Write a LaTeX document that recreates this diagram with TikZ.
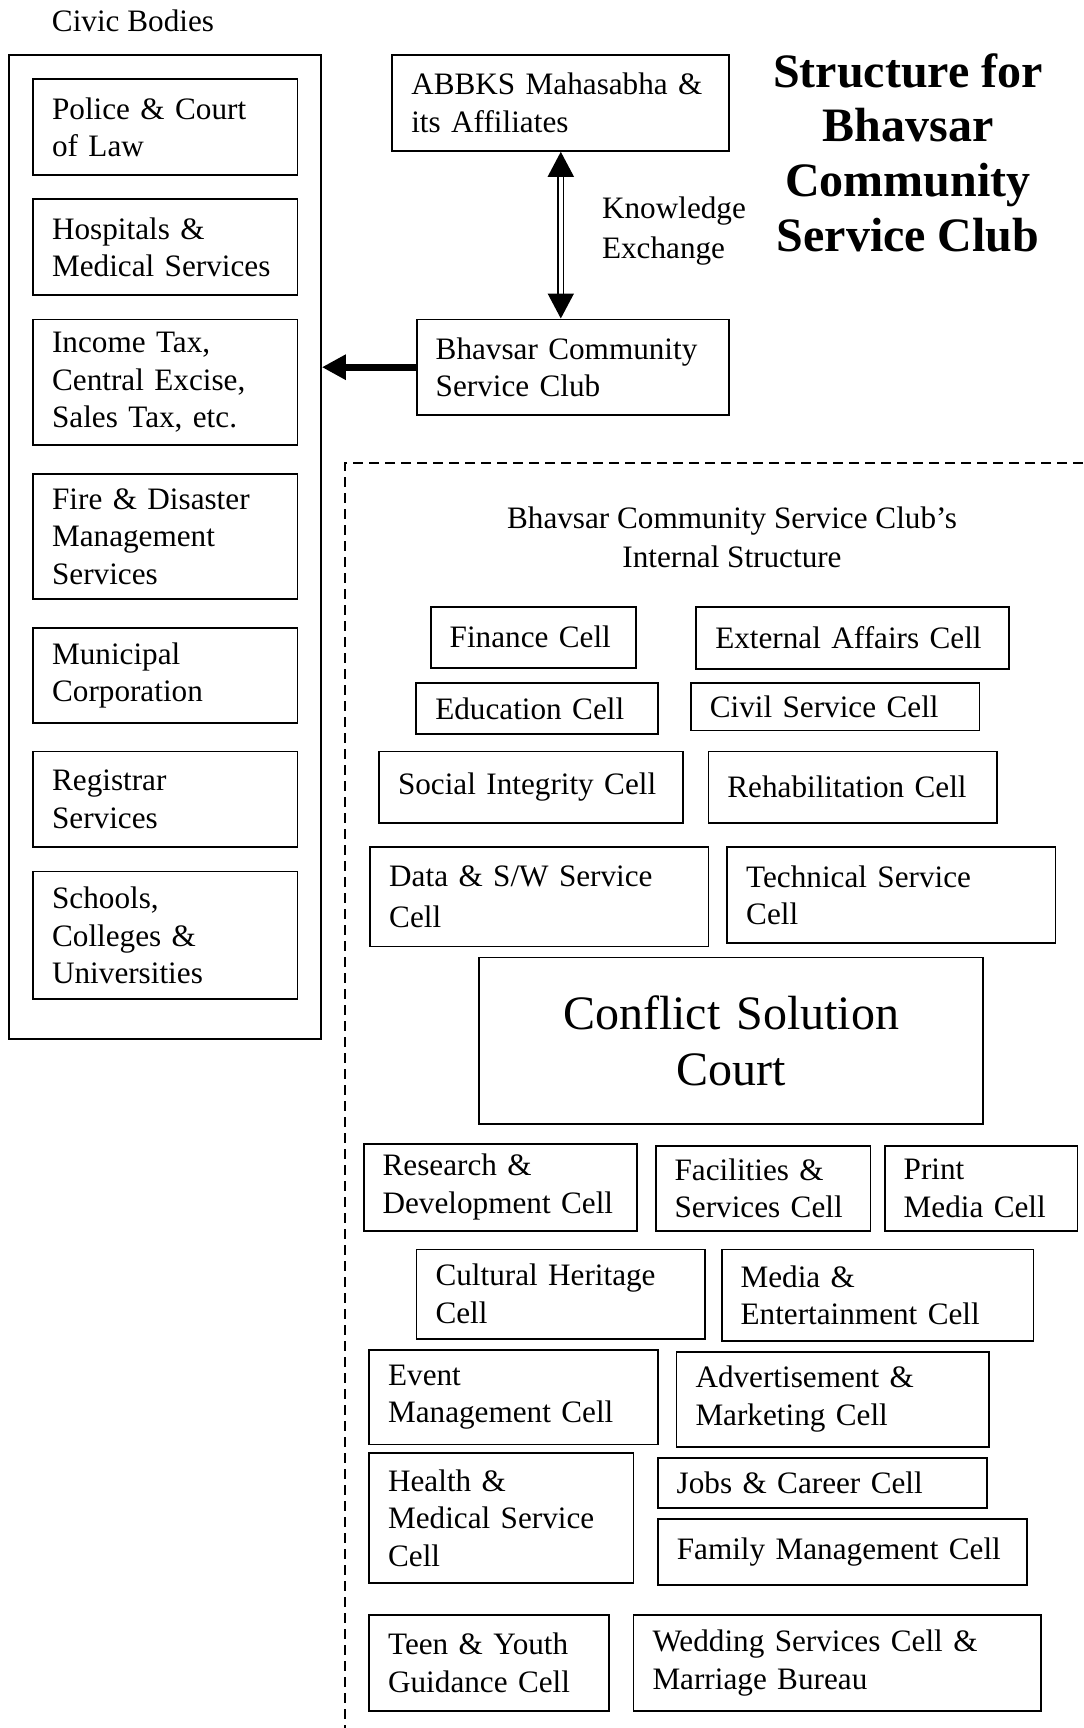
\documentclass[tikz,border=0pt]{standalone}
\usepackage{fontspec}
\setmainfont{Liberation Serif}
\usetikzlibrary{arrows.meta}

\begin{document}
\begin{tikzpicture}[x=0.5pt,y=-0.5pt,
    every node/.style={font=\fontsize{15.6}{18.7}\selectfont},
    cell/.style={draw,line width=0.9pt,inner xsep=9.5pt,inner ysep=0pt,align=left},
    bigarrow/.style={line width=3.5pt,-{Triangle[length=12pt,width=12pt]}},
    swaparrow/.style={double,line width=0.9pt,double distance=1.8pt,
        {Triangle[length=12.5pt,width=13pt]}-{Triangle[length=12.5pt,width=13pt]}}]
    \useasboundingbox (0,0) rectangle (1083,1728);
            % civic bodies
            \node (civictitle) at (133,21) {Civic Bodies};
            \node[draw,line width=0.9pt,inner sep=0pt,minimum width=156pt,
                minimum height=492pt] (civic) at (165,547) {};
            \node[cell,text width=113.2pt,minimum height=47.9pt] (police) at (165.3,127.3)
                {Police \& Court\\of Law};
            \node[cell,text width=113.2pt,minimum height=47.9pt] (hospitals) at (165.3,247.3)
                {Hospitals \&\\Medical Services};
            \node[cell,text width=113.2pt,minimum height=62.8pt] (incometax) at (165.3,382.3)
                {Income Tax,\\Central Excise,\\Sales Tax, etc.};
            \node[cell,text width=113.2pt,minimum height=62.8pt] (fire) at (165.3,536.5)
                {Fire \& Disaster\\Management\\Services};
            \node[cell,text width=113.2pt,minimum height=47.4pt] (municipal) at (165.3,675.4)
                {Municipal\\Corporation};
            \node[cell,text width=113.2pt,minimum height=47.9pt] (registrar) at (165.3,799.3)
                {Registrar\\Services};
            \node[cell,text width=113.2pt,minimum height=63.9pt] (schools) at (165.3,935.4)
                {Schools,\\Colleges \&\\Universities};
            % top part
            \node[cell,text width=149.5pt,minimum height=47.9pt] (abbks) at (560.8,103)
                {ABBKS Mahasabha \&\\its Affiliates};
            \node[cell,text width=137.3pt,minimum height=47.8pt] (club) at (573,367.2)
                {Bhavsar Community\\Service Club};
            \draw[swaparrow] (abbks.south) -- (abbks.south |- club.north);
            \node[anchor=west,align=left,font=\fontsize{15.6}{20.4}\selectfont] (knowledge)
                at (595,231) {Knowledge\\Exchange};
            \draw[bigarrow] (club.west) -- (club.west -| civic.east);
            \node[align=center,font=\fontsize{24}{27.4}\selectfont\bfseries] (heading)
                at (908,152.6) {Structure for\\Bhavsar\\Community\\Service Club};
            % internal structure
            \draw[dashed,line width=0.7pt,dash pattern=on 5pt off 3pt]
                (1083,463) -- (345,463) -- (345,1728);
            \node[align=center,font=\fontsize{15.6}{19.5}\selectfont] (inside) at (732,537)
                {Bhavsar Community Service Club’s\\Internal Structure};
            \node[cell,text width=83.5pt,minimum height=30.3pt] (finance) at (533.2,637.3)
                {Finance Cell};
            \node[cell,text width=137.4pt,minimum height=30.9pt] (external) at (852.7,637.9)
                {External Affairs Cell};
            \node[cell,text width=101.7pt,minimum height=25.3pt] (education) at (537,708.4)
                {Education Cell};
            \node[cell,text width=125.3pt,minimum height=23.7pt] (civil) at (835.1,706.8)
                {Civil Service Cell};
            \node[cell,text width=133pt,minimum height=35.8pt] (social) at (531,787.2)
                {Social Integrity Cell};
            \node[cell,text width=125.3pt,minimum height=35.8pt] (rehab) at (852.7,787.2)
                {Rehabilitation Cell};
            \node[cell,text width=150.1pt,minimum height=49.6pt,
                font=\fontsize{15.6}{20.4}\selectfont] (data) at (539.3,896.8)
                {Data \& S/W Service\\Cell};
            \node[cell,text width=145.1pt,minimum height=48pt] (technical) at (891.3,895.2)
                {Technical Service\\Cell};
            \node[cell,align=center,text width=232.7pt,minimum height=83.2pt,
                font=\fontsize{24}{28}\selectfont] (conflict) at (731,1040.6)
                {Conflict Solution\\Court};
            \node[cell,text width=117.6pt,minimum height=43.5pt] (research) at (500.2,1187.1)
                {Research \&\\Development Cell};
            \node[cell,text width=88.4pt,minimum height=42.4pt] (facilities) at (763,1188.2)
                {Facilities \&\\Services Cell};
            \node[cell,text width=77.4pt,minimum height=42.4pt] (print) at (981.1,1188.2)
                {Print\\Media Cell};
            \node[cell,text width=125.3pt,minimum height=44.6pt] (cultural) at (560.8,1294)
                {Cultural Heritage\\Cell};
            \node[cell,text width=136.9pt,minimum height=45.7pt] (media) at (877.5,1295.1)
                {Media \&\\Entertainment Cell};
            \node[cell,text width=125.3pt,minimum height=47.4pt] (event) at (513.4,1397)
                {Event\\Management Cell};
            \node[cell,text width=137.4pt,minimum height=47.4pt] (advert) at (832.9,1399.2)
                {Advertisement \&\\Marketing Cell};
            \node[cell,text width=113.2pt,minimum height=65pt] (health) at (501.3,1518.2)
                {Health \&\\Medical Service\\Cell};
            \node[cell,text width=145.7pt,minimum height=25.3pt] (jobs) at (822.4,1483)
                {Jobs \& Career Cell};
            \node[cell,text width=165.5pt,minimum height=33pt] (family) at (842.3,1552.3)
                {Family Management Cell};
            \node[cell,text width=101.1pt,minimum height=47.9pt] (teen) at (489.2,1663)
                {Teen \& Youth\\Guidance Cell};
            \node[cell,text width=184.8pt,minimum height=47.9pt] (wedding) at (837.3,1663)
                {Wedding Services Cell \&\\Marriage Bureau};
        \end{tikzpicture}
\end{document}
